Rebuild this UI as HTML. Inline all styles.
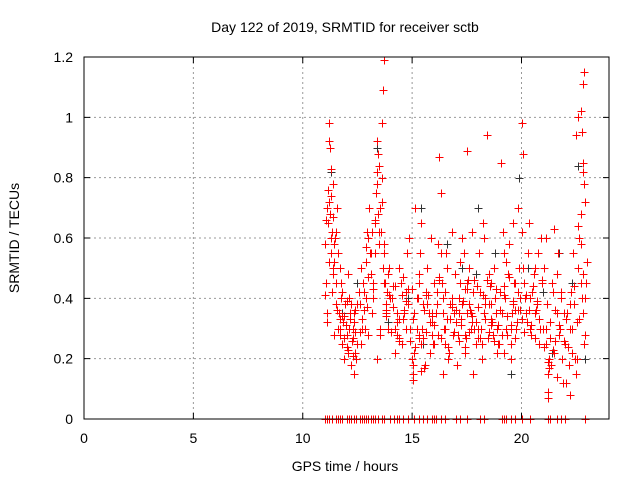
<!DOCTYPE html>
<html><head><meta charset="utf-8"><style>
body{margin:0;background:#fff}
svg{display:block;font-family:"Liberation Sans",sans-serif}
</style></head><body>
<svg id="chart" width="640" height="480" viewBox="0 0 640 480">
<rect width="640" height="480" fill="#fff"/>
<g id="grid"></g>
<g id="darkpts"></g>
<g id="redpts"></g>
<rect x="84" y="57" width="525" height="362" fill="none" stroke="#000" stroke-width="1"/>
<g id="ticks"></g>
<text x="345" y="32" text-anchor="middle" font-size="14">Day 122 of 2019, SRMTID for receiver sctb</text>
<text x="345" y="471" text-anchor="middle" font-size="14">GPS time / hours</text>
<text transform="translate(19,238) rotate(-90)" text-anchor="middle" font-size="14">SRMTID / TECUs</text>
</svg>
<script>
const xTicks=[0,5,10,15,20];
const yTicks=[0,0.2,0.4,0.6,0.8,1,1.2];
const yTickLabels=["0","0.2","0.4","0.6","0.8","1","1.2"];
const redX=[11.0,11.05,11.1,11.15,11.2,11.2,11.25,11.3,11.3,11.35,11.4,11.4,11.45,11.5,11.5,11.55,11.6,11.0,11.1,11.2,11.3,11.4,11.5,11.15,11.25,11.35,11.45,
11.6,11.65,11.7,11.75,11.8,11.85,11.9,11.95,12.0,12.05,12.1,12.15,12.2,12.25,12.3,12.35,12.4,12.45,12.5,11.7,11.8,11.9,12.0,12.1,12.2,12.3,12.4,11.75,12.05,12.35,
12.6,12.7,12.75,12.8,12.9,13.0,13.05,13.1,13.15,13.2,12.65,12.85,12.95,13.1,13.2,12.7,12.9,13.0,
13.3,13.35,13.4,13.45,13.5,13.55,13.6,13.65,13.7,13.75,13.8,13.85,13.9,13.95,14.0,13.3,13.4,13.5,13.6,13.7,13.8,13.9,13.45,13.62,13.68,13.7,13.4,13.55,
14.1,14.2,14.3,14.4,14.5,14.55,14.6,14.7,14.8,14.9,14.2,14.4,14.6,14.75,14.85,14.3,14.5,14.65,
15.0,15.05,15.1,15.2,15.3,15.4,15.5,15.6,15.7,15.8,15.9,15.0,15.1,15.25,15.35,15.45,15.55,15.65,15.75,15.85,15.95,15.05,15.3,15.5,15.7,15.9,15.4,15.15,
16.0,16.1,16.2,16.3,16.4,16.5,16.6,16.7,16.8,16.9,16.0,16.15,16.25,16.35,16.45,16.55,16.65,16.75,16.85,16.95,16.2,16.4,16.6,16.8,16.3,16.5,
17.0,17.1,17.2,17.3,17.4,17.5,17.6,17.7,17.8,17.9,17.05,17.15,17.25,17.35,17.45,17.55,17.65,17.75,17.85,17.95,17.2,17.4,17.6,17.8,17.3,17.5,17.7,17.5,
18.0,18.1,18.2,18.3,18.4,18.5,18.6,18.7,18.8,18.9,18.05,18.15,18.25,18.35,18.45,18.55,18.65,18.75,18.85,18.95,18.3,18.6,18.2,18.5,18.9,
19.0,19.1,19.2,19.3,19.4,19.5,19.6,19.7,19.8,19.9,19.05,19.15,19.25,19.35,19.45,19.55,19.65,19.75,19.85,19.95,19.3,19.5,19.7,19.6,19.2,
20.0,20.1,20.2,20.3,20.4,20.5,20.6,20.7,20.8,20.9,20.05,20.15,20.25,20.35,20.45,20.55,20.65,20.75,20.85,20.95,20.0,20.05,20.6,20.4,
21.0,21.1,21.15,21.2,21.25,21.3,21.4,21.5,21.6,21.7,21.8,21.9,21.05,21.2,21.35,21.45,21.55,21.65,21.75,21.85,21.95,21.1,21.25,21.2,21.6,21.5,
22.0,22.1,22.15,22.2,22.25,22.3,22.4,22.5,22.6,22.7,22.8,22.9,22.05,22.2,22.35,22.45,22.55,22.65,22.75,22.85,22.95,22.6,22.7,22.75,22.8,22.85,22.8,22.82,22.84,22.9,22.6,22.7,22.5,
11.08,11.18,11.28,11.38,11.48,11.58,11.68,11.78,11.88,11.98,12.08,12.18,12.28,12.38,12.48,12.58,12.68,12.78,12.88,12.98,13.08,13.18,13.28,13.38,13.48,13.58,13.72,13.82,13.92,14.02,
14.12,14.22,14.32,14.42,14.52,14.62,14.72,14.82,14.92,15.02,15.12,15.22,15.32,15.42,15.52,15.62,15.72,15.82,15.92,16.02,16.12,16.22,16.32,16.42,16.52,16.62,16.72,16.82,16.92,17.02,
17.12,17.22,17.32,17.42,17.52,17.62,17.72,17.82,17.92,18.02,18.12,18.22,18.32,18.42,18.52,18.62,18.72,18.82,18.92,19.02,19.12,19.22,19.32,19.42,19.52,19.62,19.72,19.82,19.92,20.02,
20.12,20.22,20.32,20.42,20.52,20.62,20.72,20.82,20.92,21.02,21.12,21.22,21.32,21.42,21.52,21.62,21.72,21.82,21.92,22.02,22.12,22.22,22.32,22.42,22.52,22.62,22.72,22.82,22.92,22.98,
11.12,11.42,11.72,12.02,12.32,12.62,12.92,13.22,13.52,13.82,14.12,14.42,14.72,15.02,15.32,15.62,15.92,16.22,16.52,16.82,17.12,17.42,17.72,18.02,18.32,18.62,18.92,19.22,19.52,19.82,20.12,20.42,20.72,21.02,21.32,21.62,21.92,22.22,22.52,22.82];
const redY=[0.58,0.45,0.35,0.65,0.72,0.92,0.68,0.55,0.83,0.62,0.5,0.78,0.58,0.62,0.45,0.7,0.55,0.41,0.32,0.98,0.6,0.67,0.38,0.76,0.9,0.42,0.52,
0.3,0.35,0.28,0.45,0.25,0.32,0.2,0.38,0.28,0.22,0.4,0.33,0.18,0.26,0.3,0.15,0.36,0.2,0.25,0.5,0.42,0.34,0.24,0.3,0.38,0.27,0.22,0.4,0.48,0.32,
0.38,0.3,0.45,0.42,0.52,0.6,0.7,0.48,0.35,0.4,0.25,0.3,0.62,0.55,0.45,0.33,0.4,0.28,
0.55,0.75,0.82,0.88,0.62,0.7,0.72,0.5,0.58,0.45,0.38,0.42,0.3,0.5,0.4,0.65,0.92,0.58,0.8,1.19,0.35,0.48,0.68,0.98,1.09,0.55,0.2,0.28,
0.4,0.3,0.35,0.5,0.45,0.25,0.33,0.42,0.38,0.3,0.22,0.27,0.47,0.55,0.6,0.32,0.45,0.35,
0.2,0.15,0.35,0.3,0.45,0.25,0.38,0.18,0.5,0.32,0.28,0.43,0.22,0.4,0.55,0.3,0.17,0.42,0.35,0.6,0.25,0.13,0.48,0.27,0.38,0.32,0.65,0.7,
0.45,0.35,0.28,0.55,0.4,0.3,0.5,0.22,0.62,0.35,0.25,0.42,0.87,0.45,0.3,0.55,0.2,0.38,0.28,0.48,0.58,0.15,0.33,0.4,0.75,0.25,
0.32,0.28,0.45,0.38,0.22,0.35,0.5,0.3,0.42,0.25,0.18,0.4,0.33,0.55,0.27,0.46,0.36,0.62,0.3,0.44,0.52,0.28,0.38,0.15,0.6,0.89,0.35,0.45,
0.3,0.42,0.25,0.35,0.94,0.48,0.33,0.28,0.4,0.22,0.55,0.3,0.65,0.38,0.27,0.44,0.32,0.5,0.35,0.25,0.6,0.45,0.2,0.38,0.3,
0.42,0.35,0.55,0.3,0.48,0.25,0.38,0.45,0.32,0.5,0.85,0.62,0.4,0.28,0.58,0.35,0.45,0.3,0.7,0.4,0.52,0.2,0.36,0.65,0.44,
0.98,0.45,0.35,0.55,0.3,0.42,0.5,0.38,0.25,0.6,0.88,0.4,0.32,0.65,0.28,0.48,0.36,0.55,0.3,0.45,0.62,0.5,0.35,0.4,
0.3,0.25,0.38,0.15,0.2,0.32,0.45,0.22,0.35,0.28,0.4,0.12,0.5,0.07,0.18,0.42,0.26,0.55,0.3,0.2,0.35,0.6,0.17,0.09,0.48,0.63,
0.25,0.35,0.18,0.3,0.42,0.22,0.38,0.15,0.5,0.45,0.35,0.28,0.12,0.08,0.55,0.2,0.32,0.6,0.4,0.25,0.45,1.0,1.02,0.95,0.82,1.15,1.11,0.85,0.78,0.72,0.64,0.68,0.94,
0.66,0.52,0.74,0.48,0.6,0.36,0.3,0.34,0.27,0.31,0.23,0.35,0.21,0.29,0.38,0.42,0.5,0.36,0.57,0.47,0.55,0.62,0.66,0.78,0.84,0.62,0.45,0.34,0.41,0.29,
0.37,0.44,0.28,0.33,0.41,0.36,0.3,0.43,0.26,0.18,0.24,0.4,0.27,0.16,0.36,0.29,0.41,0.22,0.34,0.31,0.38,0.46,0.27,0.35,0.42,0.24,0.33,0.37,0.29,0.36,
0.26,0.31,0.39,0.24,0.43,0.29,0.34,0.46,0.32,0.37,0.27,0.41,0.33,0.46,0.29,0.38,0.26,0.43,0.31,0.36,0.28,0.41,0.34,0.47,0.31,0.39,0.27,0.42,0.36,0.33,
0.29,0.41,0.36,0.31,0.44,0.27,0.39,0.33,0.46,0.24,0.3,0.19,0.27,0.23,0.36,0.14,0.31,0.42,0.26,0.33,0.24,0.38,0.3,0.44,0.2,0.33,0.58,0.48,0.4,0.52,
0.7,0.28,0.33,0.39,0.35,0.29,0.37,0.43,0.3,0.36,0.44,0.26,0.39,0.33,0.28,0.41,0.35,0.47,0.3,0.38,0.35,0.43,0.32,0.27,0.4,0.31,0.25,0.22,0.3,0.36];
const darkX=[11.3,11.8,12.5,13.4,13.9,14.8,15.4,16.6,17.3,18.0,18.8,19.5,19.9,20.3,21.0,21.7,22.3,22.6,22.9,15.5,17.9,21.4];
const darkY=[0.82,0.35,0.45,0.9,0.32,0.4,0.7,0.58,0.5,0.7,0.55,0.15,0.8,0.5,0.42,0.55,0.45,0.84,0.2,0.25,0.48,0.22];
const zeroX=[11.0,11.1,11.2,11.35,11.5,11.6,11.7,11.8,12.0,12.1,12.2,12.35,12.45,12.6,12.7,12.8,12.9,13.0,13.1,13.2,13.3,13.45,13.6,13.7,14.0,14.15,14.3,14.4,14.6,14.8,15.1,15.3,15.5,15.7,15.9,16.0,16.1,16.3,16.5,17.0,17.2,17.5,18.1,18.3,19.1,19.2,19.3,19.5,19.7,20.0,20.4,21.2,21.3,21.6,21.8,22.0,22.9];
const x=v=>84+v*525/24, y=v=>419-v*362/1.2;
const ns="http://www.w3.org/2000/svg";
function mk(tag,attrs,parent){const e=document.createElementNS(ns,tag);for(const k in attrs)e.setAttribute(k,attrs[k]);parent.appendChild(e);return e;}
const grid=document.getElementById('grid'),ticks=document.getElementById('ticks');
xTicks.forEach(t=>{
 if(t>0){const g=mk('line',{x1:x(t),x2:x(t),y1:57,y2:419,stroke:'#999','stroke-dasharray':'2,3'},grid);
 
 }
 const tk=mk('path',{d:`M${x(t)} 419v-6M${x(t)} 57v6`,stroke:'#000'},ticks);
 
 
 const l=mk('text',{x:x(t),y:443,'text-anchor':'middle','font-size':14},ticks);l.textContent=t;
 
 
});
yTicks.forEach((t,i)=>{
 if(t>0&&t<1.2){const g=mk('line',{x1:84,x2:609,y1:y(t),y2:y(t),stroke:'#999','stroke-dasharray':'2,3'},grid);
 
 }
 const tk=mk('path',{d:`M84 ${y(t)}h6M609 ${y(t)}h-6`,stroke:'#000'},ticks);
 
 
 const l=mk('text',{x:73,y:y(t)+5,'text-anchor':'end','font-size':14},ticks);l.textContent=yTickLabels[i];
 
 
});
function plus(g,vx,vy,col,name){const px=Math.round(x(vx))+0.5,py=Math.round(y(vy))+0.5;
 const p=mk('path',{d:`M${px-4} ${py}h8M${px} ${py-4}v8`,stroke:col,'stroke-width':1},g);
 
 }
const dg=document.getElementById('darkpts'),rg=document.getElementById('redpts');
darkX.forEach((v,i)=>plus(dg,v,darkY[i],'#333','dark-point'));
redX.forEach((v,i)=>plus(rg,v,redY[i],'#f00','red-point'));
zeroX.forEach(v=>plus(rg,v,0,'#f00','zero-point'));
</script>
</body></html>
